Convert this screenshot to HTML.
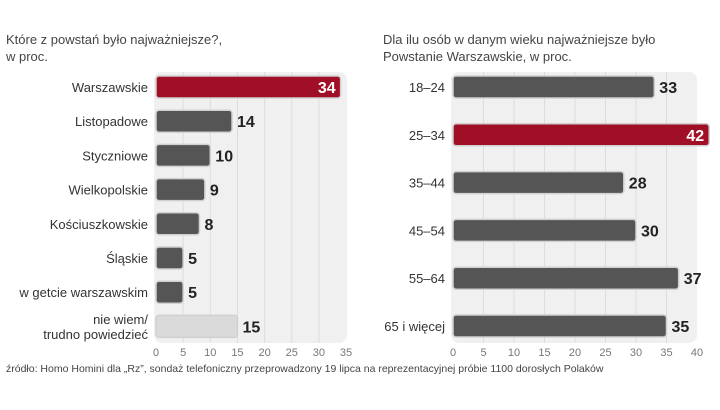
<!DOCTYPE html>
<html><head><meta charset="utf-8"><style>
body{margin:0;background:#fff;font-family:"Liberation Sans",sans-serif;}
svg text{font-family:"Liberation Sans",sans-serif;}
</style></head><body>
<svg width="720" height="405" viewBox="0 0 720 405" xmlns="http://www.w3.org/2000/svg">
<text x="6" y="44" font-size="13" fill="#444">Które z powstań było najważniejsze?,</text>
<text x="6" y="61" font-size="13" fill="#444">w proc.</text>
<text x="383" y="44" font-size="13" fill="#444">Dla ilu osób w danym wieku najważniejsze było</text>
<text x="383" y="61" font-size="13" fill="#444">Powstanie Warszawskie, w proc.</text>
<g id="left"></g><g id="right"></g>
<text x="6" y="372" font-size="10.5" fill="#444">źródło: Homo Homini dla „Rz”, sondaż telefoniczny przeprowadzony 19 lipca na reprezentacyjnej próbie 1100 dorosłych Polaków</text>
</svg>
<script>
const leftCats=["Warszawskie","Listopadowe","Styczniowe","Wielkopolskie","Kościuszkowskie","Śląskie","w getcie warszawskim","nie wiem/|trudno powiedzieć"];
const leftVals=[34,14,10,9,8,5,5,15];
const leftTicks=[0,5,10,15,20,25,30,35];
const rightCats=["18–24","25–34","35–44","45–54","55–64","65 i więcej"];
const rightVals=[33,42,28,30,37,35];
const rightTicks=[0,5,10,15,20,25,30,35,40];
const NS="http://www.w3.org/2000/svg";
function mk(p,t,a){const e=document.createElementNS(NS,t);for(const k in a)e.setAttribute(k,a[k]);p.appendChild(e);return e;}
function draw(g,cats,vals,ticks,x0,scale,panelR,y0,y1,step,c0,hiIdx,lastLight,name){
  mk(g,'rect',{x:x0-2,y:y0,width:panelR-x0+2,height:y1-y0,rx:8,fill:'#f0f0f0'});
  ticks.forEach(t=>{const x=x0+t*scale;
    if(t>0&&x<panelR-2){const l=mk(g,'line',{x1:x,x2:x,y1:y0,y2:y1,stroke:'#dcdcdc','stroke-width':1});
    }
    const tx=mk(g,'text',{x:x,y:356,'font-size':11,fill:'#777','text-anchor':'middle'});tx.textContent=t;
    });
  cats.forEach((c,i)=>{const cy=c0+i*step,w=vals[i]*scale;
    const hi=i===hiIdx,light=lastLight&&i===cats.length-1;
    const r=mk(g,'rect',{x:x0,y:cy-11,width:w,height:22,rx:3,fill:hi?'#a10f26':light?'#dadada':'#555',stroke:'#d0d0d0','stroke-width':1.5});
    
    const parts=c.split('|');
    parts.forEach((p,j)=>{const t=mk(g,'text',{x:x0-8,y:cy+5+(j-(parts.length-1)/2)*15,'font-size':13,fill:'#333','text-anchor':'end'});t.textContent=p;
      });
    const v=mk(g,'text',{x:hi?x0+w-5:x0+w+5,y:cy+6,'font-size':16,'font-weight':'bold',fill:hi?'#fff':'#222','text-anchor':hi?'end':'start'});v.textContent=vals[i];
    });
}
draw(document.getElementById('left'),leftCats,leftVals,leftTicks,156,5.43,347,72,343,34.2,87,0,true,'left');
draw(document.getElementById('right'),rightCats,rightVals,rightTicks,453,6.1,697,72,343,47.8,87,1,false,'right');
</script>
</body></html>
